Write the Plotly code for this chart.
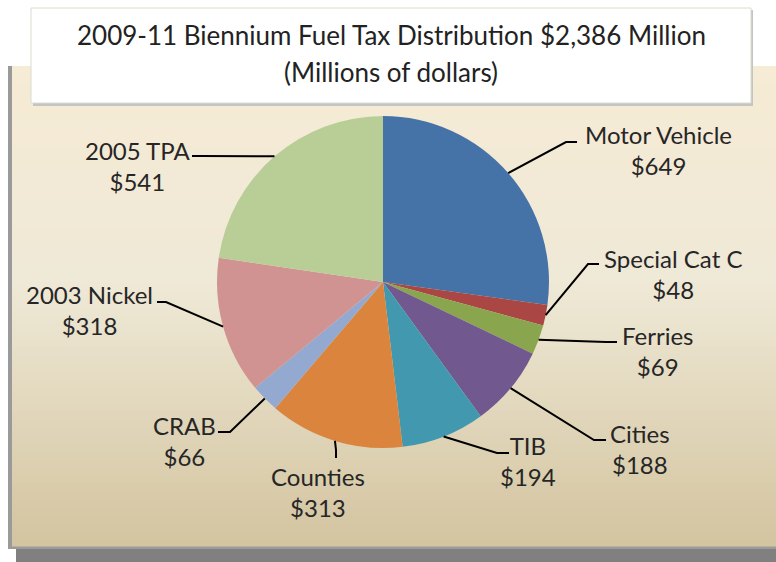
import math
import plotly.graph_objects as go

# 資料
labels = ['Motor Vehicle', 'Special Cat C', 'Ferries', 'Cities', 'TIB',
          'Counties', 'CRAB', '2003 Nickel', '2005 TPA']
values = [649, 48, 69, 188, 194, 313, 66, 318, 541]
colors = ['#4572A7', '#AA4643', '#89A54E', '#71588F', '#4198AF',
          '#DB843D', '#93A9CF', '#D19392', '#B9CD96']
title_lines = ['2009-11 Biennium Fuel Tax Distribution $2,386 Million',
               '(Millions of dollars)']

W, H = 776, 562
CX, CY, R = 383, 282, 166   # 圓心與半徑(像素)

# 標籤位置 (文字中心, 折點, 線尾) -- 像素
label_pos = [
    ((658, 150), (566, 142), (577, 142)),
    ((673, 274), (588, 264), (599, 264)),
    ((658, 351), (606, 342), (617, 342)),
    ((640, 449), (594, 440), (606, 440)),
    ((528, 461), (497, 453), (509, 453)),
    ((318, 492), (336, 450), (336, 458)),
    ((184, 441), (230, 432), (218, 432)),
    ((89, 310), (166, 302), (157, 302)),
    ((137, 166), (200, 156), (192, 156)),
]

FONT = 'Lato'


def px(x):
    return x / W


def py(y):
    return 1 - y / H


def hex2rgb(h):
    return tuple(int(h[i:i + 2], 16) for i in (1, 3, 5))


def mix(c1, c2, t):
    a, b = hex2rgb(c1), hex2rgb(c2)
    return 'rgb(%d,%d,%d)' % tuple(round(a[i] + (b[i] - a[i]) * t) for i in range(3))


fig = go.Figure()
fig.add_trace(go.Pie(labels=labels, values=values, sort=False, direction='clockwise',
                     rotation=0, textinfo='none', hoverinfo='label+value',
                     marker=dict(colors=colors, line=dict(width=0)),
                     domain=dict(x=[px(CX - R), px(CX + R)], y=[py(CY + R), py(CY - R)]),
                     showlegend=False))

shapes = []
# 陰影與邊框
shapes.append(dict(type='rect', xref='paper', yref='paper', layer='below',
                   x0=px(16), x1=px(776), y0=py(562), y1=py(549),
                   fillcolor='#808080', line=dict(width=0)))
shapes.append(dict(type='rect', xref='paper', yref='paper', layer='below',
                   x0=px(8), x1=px(776), y0=py(549), y1=py(66),
                   fillcolor='#9A9A9A', line=dict(width=0)))
# 漸層背景
top, mid, bot = '#F6EBD4', '#EFE9D7', '#D3C49F'
y_top, y_bot = 66, 546
n = 60
for i in range(n):
    t = (i + 0.5) / n
    c = mix(top, mid, t / 0.45) if t < 0.45 else mix(mid, bot, (t - 0.45) / 0.55)
    y0 = y_top + (y_bot - y_top) * i / n
    y1 = y_top + (y_bot - y_top) * (i + 1) / n + 0.5
    shapes.append(dict(type='rect', xref='paper', yref='paper', layer='below',
                       x0=px(12), x1=px(776), y0=py(y1), y1=py(y0),
                       fillcolor=c, line=dict(width=0)))
# 標題框
shapes.append(dict(type='rect', xref='paper', yref='paper', layer='below',
                   x0=px(33), x1=px(753), y0=py(106), y1=py(10),
                   fillcolor='#C4C4C4', line=dict(width=0)))
shapes.append(dict(type='rect', xref='paper', yref='paper', layer='below',
                   x0=px(31), x1=px(751), y0=py(103), y1=py(8),
                   fillcolor='white', line=dict(color='#D8DDD0', width=1)))

annotations = []
for txt, ty in zip(title_lines, [35, 72]):
    annotations.append(dict(text=txt, xref='paper', yref='paper', x=px(391), y=py(ty),
                            xanchor='center', yanchor='middle', showarrow=False,
                            font=dict(family=FONT, size=26, color='#222222')))

# 引導線與標籤
total = sum(values)
cum = 0
for lab, v, (tpos, elbow, end) in zip(labels, values, label_pos):
    ang = math.radians((cum + v / 2) / total * 360)
    cum += v
    sx, sy = CX + R * math.sin(ang), CY - R * math.cos(ang)
    path = 'M %f,%f L %f,%f L %f,%f' % (px(sx), py(sy), px(elbow[0]), py(elbow[1]),
                                         px(end[0]), py(end[1]))
    shapes.append(dict(type='path', xref='paper', yref='paper', path=path,
                       line=dict(color='black', width=2), layer='above'))
    annotations.append(dict(text='%s<br>$%d' % (lab, v), xref='paper', yref='paper',
                            x=px(tpos[0]), y=py(tpos[1]), xanchor='center', yanchor='middle',
                            showarrow=False, align='center',
                            font=dict(family=FONT, size=24, color='#262626')))

fig.update_layout(width=W, height=H, margin=dict(l=0, r=0, t=0, b=0),
                  paper_bgcolor='white', plot_bgcolor='white',
                  shapes=shapes, annotations=annotations)
fig.write_html('out.html', config={'displayModeBar': False},
               post_script="document.body.style.margin='0';")
